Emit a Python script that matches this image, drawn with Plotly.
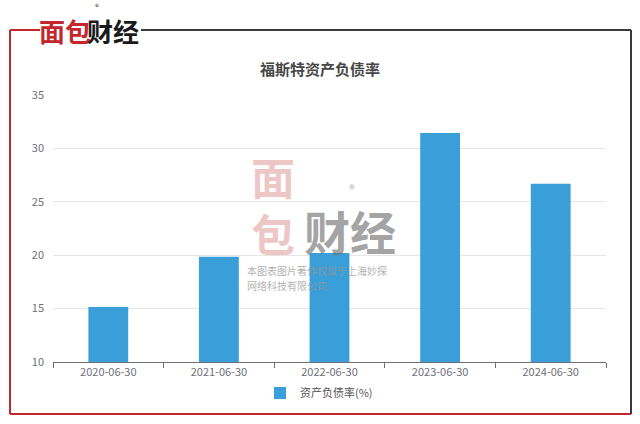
import plotly.graph_objects as go

categories = ["2020-06-30", "2021-06-30", "2022-06-30", "2023-06-30", "2024-06-30"]
values = [15.15, 19.85, 20.2, 31.45, 26.7]
series_name = "资产负债率(%)"
title_text = "福斯特资产负债率"

L, R, T, B = 53, 606, 95, 362
W, H = R - L, B - T

def px(x):
    return (x - L) / W

def py(y):
    return (B - y) / H

fig = go.Figure()
fig.add_trace(go.Bar(x=categories, y=values, name=series_name,
                     marker=dict(color="#3a9fd9", line=dict(width=0))))

font = "Noto Sans CJK SC, Microsoft YaHei, sans-serif"

shapes = []
red = "#c4262e"
dark = "#3a3a3a"
# frame
shapes.append(dict(type="line", xref="paper", yref="paper", x0=px(10), x1=px(10), y0=py(30), y1=py(414), line=dict(color=red, width=2)))
shapes.append(dict(type="line", xref="paper", yref="paper", x0=px(10), x1=px(631), y0=py(414), y1=py(414), line=dict(color=red, width=2)))
shapes.append(dict(type="line", xref="paper", yref="paper", x0=px(631), x1=px(631), y0=py(30), y1=py(414), line=dict(color=dark, width=2)))
shapes.append(dict(type="line", xref="paper", yref="paper", x0=px(10), x1=px(40), y0=py(30), y1=py(30), line=dict(color=red, width=2)))
shapes.append(dict(type="line", xref="paper", yref="paper", x0=px(141), x1=px(631), y0=py(30), y1=py(30), line=dict(color=dark, width=2)))

annotations = []
# top logo
annotations.append(dict(xref="paper", yref="paper", x=px(65), y=py(30), text="<b>面包</b>", showarrow=False,
                        font=dict(family=font, size=26, color=red), xanchor="center", yanchor="middle"))
annotations.append(dict(xref="paper", yref="paper", x=px(113), y=py(30), text="<b>财经</b>", showarrow=False,
                        font=dict(family=font, size=26, color="#1a1a1a"), xanchor="center", yanchor="middle"))
annotations.append(dict(xref="paper", yref="paper", x=px(97), y=py(6), text="®", showarrow=False,
                        font=dict(family=font, size=8, color="#333"), xanchor="center", yanchor="middle"))
# watermark
annotations.append(dict(xref="paper", yref="paper", x=px(273), y=py(204), text="<b>面<br>包</b>", showarrow=False,
                        font=dict(family=font, size=44, color="rgba(205,90,90,0.35)"), xanchor="center", yanchor="middle"))
annotations.append(dict(xref="paper", yref="paper", x=px(350), y=py(230), text="<b>财经</b>", showarrow=False,
                        font=dict(family=font, size=46, color="rgba(110,110,110,0.65)"), xanchor="center", yanchor="middle"))
annotations.append(dict(xref="paper", yref="paper", x=px(352), y=py(188), text="®", showarrow=False,
                        font=dict(family=font, size=12, color="rgba(120,120,120,0.6)"), xanchor="center", yanchor="middle"))
annotations.append(dict(xref="paper", yref="paper", x=px(245), y=py(270), text="本图表图片著作权属于上海妙探", showarrow=False,
                        font=dict(family=font, size=10, color="rgba(150,150,150,0.75)"), xanchor="left", yanchor="middle"))
annotations.append(dict(xref="paper", yref="paper", x=px(245), y=py(285), text="网络科技有限公司", showarrow=False,
                        font=dict(family=font, size=10, color="rgba(150,150,150,0.75)"), xanchor="left", yanchor="middle"))

fig.update_layout(
    width=640, height=424,
    margin=dict(l=L, r=640 - R, t=T, b=424 - B, autoexpand=False),
    paper_bgcolor="white", plot_bgcolor="white",
    font=dict(family=font, color="#6e7079", size=11),
    title=dict(text="<b>" + title_text + "</b>", x=0.5, xanchor="center", y=1 - 70 / 424, yanchor="middle",
               font=dict(family=font, size=15, color="#464646")),
    bargap=0.64,
    showlegend=True,
    legend=dict(orientation="h", x=px(319), xanchor="center", y=py(393), yanchor="middle",
                font=dict(family=font, size=11, color="#555"), itemwidth=30),
    shapes=shapes, annotations=annotations,
)
fig.update_xaxes(type="category", showline=True, linecolor="#6e7079", linewidth=1, ticks="outside",
                 tickson="boundaries", ticklen=5, tickcolor="#6e7079", showgrid=False,
                 tickfont=dict(size=11, color="#6e7079"))
fig.update_yaxes(range=[10, 35], dtick=5, showline=False, gridcolor="#e6e6e6", gridwidth=1,
                 zeroline=False, tickfont=dict(size=11, color="#6e7079"), ticks="", ticklabelstandoff=8)

fig.write_html("out.html", config={"displayModeBar": False},
               post_script="document.body.style.margin='0px';")
